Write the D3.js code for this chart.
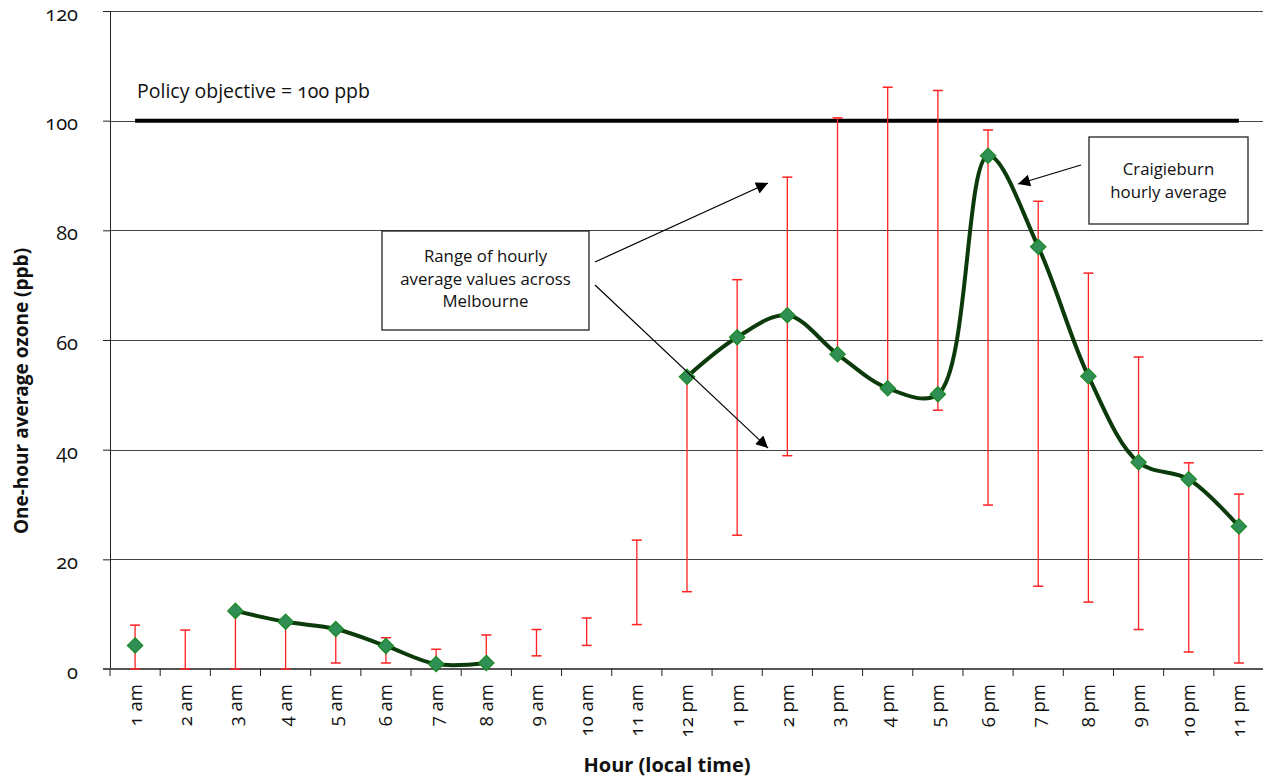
<html>
<head>
<style>
  body { margin: 0; background: #fff; }
  text { font-family: "Open Sans", "DejaVu Sans", sans-serif; }
</style>
</head>
<body>
<svg id="chart" width="1263" height="780"></svg>
<script src="https://cdn.jsdelivr.net/npm/d3@7/dist/d3.min.js"></script>
<script>
// hours of the day
let hours = ["1 am","2 am","3 am","4 am","5 am","6 am","7 am","8 am","9 am","10 am","11 am",
             "12 pm","1 pm","2 pm","3 pm","4 pm","5 pm","6 pm","7 pm","8 pm","9 pm","10 pm","11 pm"]
// Craigieburn hourly average (null = no reading)
let craigieburn = [4.3, null, 10.6, 8.6, 7.3, 4.2, 0.9, 1.1, null, null, null,
                   53.3, 60.5, 64.5, 57.4, 51.2, 50.1, 93.6, 77, 53.4, 37.7, 34.6, 26]
// range across Melbourne
let rangeMin = [0, 0, 0, 0, 1.1, 1.1, 0.7, 1, 2.4, 4.3, 8.1,
                14.1, 24.4, 38.9, 57.4, 51.2, 47.2, 29.9, 15.1, 12.2, 7.2, 3.1, 1.1]
let rangeMax = [8, 7.1, 10.6, 8.6, 7.3, 5.7, 3.6, 6.2, 7.2, 9.3, 23.5,
                53.3, 71, 89.7, 100.5, 106.1, 105.5, 98.3, 85.3, 72.2, 56.9, 37.6, 31.9]
let policy = 100
let yTicks = [0, 20, 40, 60, 80, 100, 120]

let svg = d3.select("#chart")
let mLeft = 110, mRight = 1264, mTop = 11, mBottom = 669

let x = d3.scaleBand().domain(hours).range([mLeft, mRight]).padding(0)
let y = d3.scaleLinear().domain([0, 120]).range([mBottom, mTop])
let cx = d => x(d) + x.bandwidth() / 2

// gridlines
svg.append("g").selectAll("line").data(yTicks.filter(t => t > 0))
  .enter().append("line")
  .attr("x1", mLeft).attr("x2", 1263)
  .attr("y1", d => Math.round(y(d)) + 0.5).attr("y2", d => Math.round(y(d)) + 0.5)
  .attr("stroke", "#444").attr("stroke-width", 1)

// y axis
let yAxis = svg.append("g").attr("transform", `translate(${mLeft},0)`)
  .call(d3.axisLeft(y).tickValues(yTicks).tickSize(7).tickPadding(25))
yAxis.select(".domain").attr("stroke", "#222")
yAxis.selectAll(".tick line").attr("stroke", "#222")
yAxis.selectAll("text").attr("font-size", 20).attr("fill", "#111").attr("dy", "0.45em")
  .style("font-variant-numeric", "oldstyle-nums")

// x axis
let xAxis = svg.append("g").attr("transform", `translate(0,${mBottom})`)
xAxis.append("line").attr("x1", mLeft - 7).attr("x2", 1263)
  .attr("stroke", "#555").attr("stroke-width", 2)
xAxis.selectAll(".tk").data(hours.concat(["end"]))
  .enter().append("line")
  .attr("x1", (d, i) => i < hours.length ? x(d) : mRight)
  .attr("x2", (d, i) => i < hours.length ? x(d) : mRight)
  .attr("y1", 0).attr("y2", 7).attr("stroke", "#222")
xAxis.selectAll(".lbl").data(hours)
  .enter().append("text")
  .attr("transform", d => `translate(${cx(d)},15) rotate(-90)`)
  .attr("text-anchor", "end").attr("dy", "0.35em")
  .attr("font-size", 18.5).attr("fill", "#111")
  .style("font-variant-numeric", "oldstyle-nums")
  .text(d => d)

// policy line
svg.append("line")
  .attr("x1", cx(hours[0])).attr("x2", cx(hours[hours.length - 1]))
  .attr("y1", y(policy)).attr("y2", y(policy))
  .attr("stroke", "#000").attr("stroke-width", 4)
svg.append("text").attr("x", 137).attr("y", 98)
  .attr("font-size", 19.5).attr("fill", "#111")
  .style("font-variant-numeric", "oldstyle-nums")
  .text("Policy objective = 100 ppb")

// error bars
let bars = svg.append("g").selectAll("g").data(hours).enter().append("g")
bars.append("line")
  .attr("x1", d => cx(d)).attr("x2", d => cx(d))
  .attr("y1", (d, i) => y(rangeMin[i])).attr("y2", (d, i) => y(rangeMax[i]))
  .attr("stroke", "#ff2020").attr("stroke-width", 1.3)
bars.append("line")
  .attr("x1", d => cx(d) - 5).attr("x2", d => cx(d) + 5)
  .attr("y1", (d, i) => y(rangeMax[i])).attr("y2", (d, i) => y(rangeMax[i]))
  .attr("stroke", "#ff2020").attr("stroke-width", 1.5)
bars.append("line")
  .attr("x1", d => cx(d) - 5).attr("x2", d => cx(d) + 5)
  .attr("y1", (d, i) => y(rangeMin[i])).attr("y2", (d, i) => y(rangeMin[i]))
  .attr("stroke", "#ff2020").attr("stroke-width", 1.5)

// smoothed average line
let line = d3.line()
  .defined(d => d.v !== null)
  .x(d => cx(d.h)).y(d => y(d.v))
  .curve(d3.curveCatmullRom.alpha(0.5))
let pts = hours.map((h, i) => ({ h: h, v: craigieburn[i] }))
svg.append("path").attr("d", line(pts))
  .attr("fill", "none").attr("stroke", "#0b3a0b").attr("stroke-width", 4)

svg.append("g").selectAll("path").data(pts.filter(d => d.v !== null))
  .enter().append("path")
  .attr("d", d3.symbol().type(d3.symbolDiamond2).size(150))
  .attr("transform", d => `translate(${cx(d.h)},${y(d.v)})`)
  .attr("fill", "#2f8f55").attr("stroke", "#1c8a25").attr("stroke-width", 1.2)

// annotations
let defs = svg.append("defs")
defs.append("marker").attr("id", "arr").attr("viewBox", "0 0 10 10")
  .attr("refX", 10).attr("refY", 5).attr("markerWidth", 14).attr("markerHeight", 12)
  .attr("markerUnits", "userSpaceOnUse").attr("orient", "auto")
  .append("path").attr("d", "M0,0L10,5L0,10z").attr("fill", "#000")

let arrows = [[595, 262, 768, 183], [595, 285, 768, 448], [1081, 165, 1018, 184]]
svg.append("g").selectAll("line").data(arrows).enter().append("line")
  .attr("x1", d => d[0]).attr("y1", d => d[1]).attr("x2", d => d[2]).attr("y2", d => d[3])
  .attr("stroke", "#000").attr("stroke-width", 1.2).attr("marker-end", "url(#arr)")

function box(x0, y0, w, h, lines, ty, fs) {
  svg.append("rect").attr("x", x0).attr("y", y0).attr("width", w).attr("height", h)
    .attr("fill", "#fff").attr("stroke", "#222").attr("stroke-width", 1.3)
  svg.append("g").selectAll("text").data(lines).enter().append("text")
    .attr("x", x0 + w / 2).attr("y", (d, i) => ty + i * 22.5)
    .attr("text-anchor", "middle").attr("font-size", fs).attr("fill", "#111")
    .text(d => d)
}
box(382, 231, 207, 99, ["Range of hourly", "average values across", "Melbourne"], 262, 16.8)
box(1089, 137, 159, 87, ["Craigieburn", "hourly average"], 175, 16.8)

// axis titles
svg.append("text").attr("transform", "translate(28,391) rotate(-90)")
  .attr("text-anchor", "middle").attr("font-size", 19).attr("font-weight", "bold")
  .attr("fill", "#111").text("One-hour average ozone (ppb)")
svg.append("text").attr("x", 667).attr("y", 772)
  .attr("text-anchor", "middle").attr("font-size", 20).attr("font-weight", "bold")
  .attr("fill", "#111").style("font-family", "'Liberation Sans Narrow', 'Open Sans', sans-serif")
  .text("Hour (local time)")
</script>
</body>
</html>
